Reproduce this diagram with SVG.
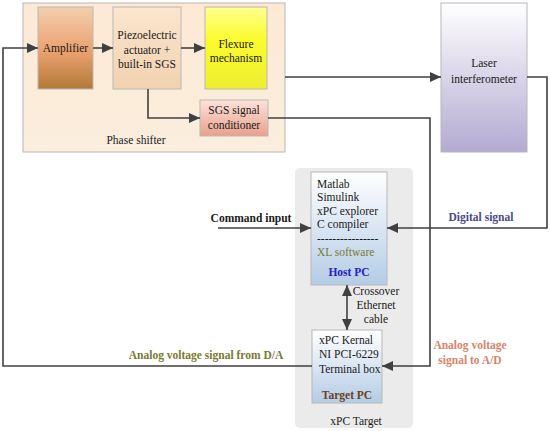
<svg xmlns="http://www.w3.org/2000/svg" width="550" height="431" viewBox="0 0 550 431">
<defs>
<linearGradient id="gPhase" x1="0" y1="0" x2="0" y2="1"><stop offset="0" stop-color="#fde9d6"/><stop offset="1" stop-color="#fbeedd"/></linearGradient>
<linearGradient id="gAmp" x1="0" y1="0" x2="0" y2="1"><stop offset="0" stop-color="#f3cfae"/><stop offset="0.55" stop-color="#eba06e"/><stop offset="1" stop-color="#b07a36"/></linearGradient>
<linearGradient id="gPiezo" x1="0" y1="0" x2="0" y2="1"><stop offset="0" stop-color="#fbe6cf"/><stop offset="1" stop-color="#f1d2b0"/></linearGradient>
<linearGradient id="gFlex" x1="0" y1="0" x2="0" y2="1"><stop offset="0" stop-color="#ffff90"/><stop offset="0.4" stop-color="#fbfb2e"/><stop offset="1" stop-color="#eeee30"/></linearGradient>
<linearGradient id="gSgs" x1="0" y1="0" x2="0" y2="1"><stop offset="0" stop-color="#fde3da"/><stop offset="1" stop-color="#e9a08c"/></linearGradient>
<linearGradient id="gLaser" x1="0" y1="0" x2="0" y2="1"><stop offset="0" stop-color="#ffffff"/><stop offset="1" stop-color="#b4aad2"/></linearGradient>
<linearGradient id="gPc" x1="0" y1="0" x2="0" y2="1"><stop offset="0" stop-color="#ffffff"/><stop offset="1" stop-color="#b4cce6"/></linearGradient>
<marker id="ar" markerUnits="userSpaceOnUse" markerWidth="12" markerHeight="10" refX="11" refY="5" orient="auto-start-reverse"><path d="M0,0 L11,5 L0,10 Z" fill="#404040"/></marker>
<style>
text{font-family:"Liberation Serif","Times New Roman",serif;font-size:11.5px;fill:#1a1a1a}
.c{text-anchor:middle}
.b{font-weight:bold}
.box{stroke:#b8b8b8;stroke-width:1}
.ln{fill:none;stroke:#404040;stroke-width:1.6}
</style>
</defs>
<g id="xpc-target">
<rect x="295" y="168" width="118" height="260" rx="5" fill="#ebebeb"/>
<text class="c" x="356" y="425">xPC Target</text>
</g>
<g id="phase-shifter">
<rect class="box" x="23" y="3" width="262" height="149" fill="url(#gPhase)"/>
<text class="c" x="136" y="144">Phase shifter</text>
</g>
<g id="amplifier">
<rect class="box" x="38" y="7" width="55" height="82" fill="url(#gAmp)"/>
<text class="c" x="65.5" y="52">Amplifier</text>
</g>
<g id="piezo">
<rect class="box" x="113" y="7" width="68" height="82" fill="url(#gPiezo)"/>
<text class="c" x="147" y="39">Piezoelectric</text>
<text class="c" x="147" y="54">actuator +</text>
<text class="c" x="147" y="68">built-in SGS</text>
</g>
<g id="flexure">
<rect class="box" x="205" y="7" width="62" height="82" fill="url(#gFlex)"/>
<text class="c" x="236" y="48">Flexure</text>
<text class="c" x="236" y="62">mechanism</text>
</g>
<g id="sgs">
<rect class="box" x="200" y="100" width="68" height="36" fill="url(#gSgs)"/>
<text class="c" x="234" y="114">SGS signal</text>
<text class="c" x="234" y="129">conditioner</text>
</g>
<g id="laser">
<rect class="box" x="441" y="3" width="86" height="149" fill="url(#gLaser)"/>
<text class="c" x="484" y="67">Laser</text>
<text class="c" x="484" y="83">interferometer</text>
</g>
<g id="host-pc">
<rect class="box" x="311" y="172" width="76" height="113" fill="url(#gPc)"/>
<text x="317" y="188">Matlab</text>
<text x="317" y="201">Simulink</text>
<text x="317" y="215">xPC explorer</text>
<text x="317" y="228">C compiler</text>
<text x="317" y="242">----------------</text>
<text x="317" y="256" style="fill:#7a7a30">XL software</text>
<text class="c b" x="349" y="276" style="fill:#2222c0">Host PC</text>
</g>
<g id="target-pc">
<rect class="box" x="312" y="330" width="70" height="73" fill="url(#gPc)"/>
<text x="319" y="344">xPC Kernal</text>
<text x="319" y="358">NI PCI-6229</text>
<text x="319" y="373">Terminal box</text>
<text class="c b" x="347" y="399" style="fill:#6e4020">Target PC</text>
</g>
<g id="connectors">
<polyline class="ln" points="312,366 3,366 3,48 38,48" marker-end="url(#ar)"/>
<line class="ln" x1="93" y1="48" x2="113" y2="48" marker-end="url(#ar)"/>
<line class="ln" x1="181" y1="48" x2="205" y2="48" marker-end="url(#ar)"/>
<polyline class="ln" points="148,89 148,118 200,118" marker-end="url(#ar)"/>
<line class="ln" x1="285" y1="77" x2="441" y2="77" marker-end="url(#ar)"/>
<polyline class="ln" points="268,118 430,118 430,366 382,366" marker-end="url(#ar)"/>
<polyline class="ln" points="527,77 547,77 547,228 387,228" marker-end="url(#ar)"/>
<line class="ln" x1="218" y1="228" x2="311" y2="228" marker-end="url(#ar)"/>
<line class="ln" x1="347" y1="285" x2="347" y2="330" stroke-width="2" marker-start="url(#ar)" marker-end="url(#ar)"/>
</g>
<g id="labels">
<text class="c b" x="251" y="222">Command input</text>
<text class="c b" x="481" y="221" style="fill:#4a4a8a">Digital signal</text>
<text class="c b" x="206" y="359" style="fill:#7a7a30">Analog voltage signal from D/A</text>
<text class="c b" x="470" y="349" style="fill:#d4846a">Analog voltage</text>
<text class="c b" x="470" y="364" style="fill:#d4846a">signal to A/D</text>
<text class="c" x="376" y="295">Crossover</text>
<text class="c" x="376" y="309">Ethernet</text>
<text class="c" x="376" y="323">cable</text>
</g>
</svg>
